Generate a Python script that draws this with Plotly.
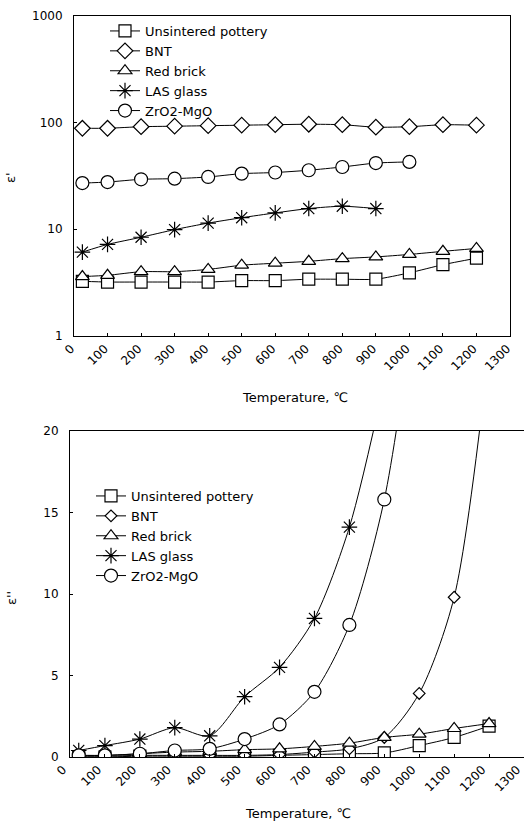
import plotly.graph_objects as go

# ---- data ----
temps = [25, 100, 200, 300, 400, 500, 600, 700, 800, 900, 1000, 1100, 1200]
series_names = ["Unsintered pottery", "BNT", "Red brick", "LAS glass", "ZrO2-MgO"]

# real part (epsilon')
eps1_pottery = [3.25, 3.2, 3.2, 3.2, 3.2, 3.3, 3.3, 3.4, 3.4, 3.4, 3.9, 4.65, 5.35]
eps1_bnt = [88, 88, 91, 92, 93, 94, 95, 96, 95, 90, 91, 95, 94]
eps1_brick = [3.6, 3.7, 4.0, 4.0, 4.2, 4.6, 4.8, 5.0, 5.3, 5.5, 5.8, 6.2, 6.6]
eps1_las = [6.1, 7.2, 8.4, 9.9, 11.4, 12.8, 14.2, 15.6, 16.4, 15.6]
eps1_zro2 = [27.0, 27.6, 29.3, 29.7, 30.8, 33.1, 33.9, 35.6, 38.2, 41.6, 42.6]

# imaginary part (epsilon'')
eps2_pottery = [0.0, 0.0, 0.05, 0.05, 0.05, 0.05, 0.1, 0.15, 0.2, 0.25, 0.7, 1.2, 1.9]
eps2_bnt = [0.05, 0.05, 0.1, 0.1, 0.1, 0.1, 0.15, 0.3, 0.5, 1.2, 3.9, 9.8, 25]
eps2_brick = [0.1, 0.1, 0.2, 0.3, 0.35, 0.45, 0.5, 0.65, 0.85, 1.2, 1.4, 1.75, 2.05]
eps2_las = [0.4, 0.7, 1.1, 1.8, 1.3, 3.7, 5.5, 8.5, 14.1, 23]
eps2_zro2 = [0.1, 0.1, 0.2, 0.4, 0.5, 1.1, 2.0, 4.0, 8.1, 15.8, 30]

x_ticks = list(range(0, 1301, 100))
y1_ticks = [1, 10, 100, 1000]
y2_ticks = [0, 5, 10, 15, 20]

symbols = ["square", "diamond", "triangle-up", "asterisk-open", "circle"]
fills = ["white", "white", "white", "black", "white"]
sizes1 = [12, 12, 12, 13, 13]
sizes2 = [12, 9, 12, 13, 13]

W, H = 524, 821
FONT = "DejaVu Sans, Arial, sans-serif"

fig = go.Figure()

top_data = [eps1_pottery, eps1_bnt, eps1_brick, eps1_las, eps1_zro2]
bot_data = [eps2_pottery, eps2_bnt, eps2_brick, eps2_las, eps2_zro2]

for i, name in enumerate(series_names):
    ys = top_data[i]
    fig.add_trace(go.Scatter(
        x=temps[:len(ys)], y=ys, name=name, mode="lines+markers",
        line=dict(color="black", width=1, shape="spline", smoothing=0.6),
        marker=dict(symbol=symbols[i], size=sizes1[i], color=fills[i],
                    line=dict(color="black", width=1.2)),
        xaxis="x", yaxis="y", legend="legend"))

for i, name in enumerate(series_names):
    ys = bot_data[i]
    fig.add_trace(go.Scatter(
        x=temps[:len(ys)], y=ys, name=name, mode="lines+markers",
        line=dict(color="black", width=1, shape="spline", smoothing=0.8),
        marker=dict(symbol=symbols[i], size=sizes2[i], color=fills[i],
                    line=dict(color="black", width=1.2)),
        xaxis="x2", yaxis="y2", legend="legend2"))

def px_x(p):
    return p / W

def px_y(p):
    return 1 - p / H

axis_common = dict(showgrid=False, zeroline=False, showline=True, linecolor="black",
                   linewidth=1, mirror=True, ticks="inside", ticklen=3,
                   tickcolor="black", automargin=False, ticklabeloverflow="allow",
                   tickfont=dict(family=FONT, size=12, color="black"))

fig.update_layout(
    width=W, height=H, template="none",
    paper_bgcolor="white", plot_bgcolor="white",
    margin=dict(l=0, r=0, t=0, b=0),
    showlegend=True,
    xaxis=dict(domain=[px_x(74), px_x(510)], range=[0, 1300], anchor="y",
               tickvals=x_ticks, tickangle=-45, ticklabelshift=-3, **axis_common),
    yaxis=dict(domain=[px_y(336), px_y(15.5)], type="log", range=[0, 3], anchor="x",
               tickvals=y1_ticks, ticktext=[str(v) for v in y1_ticks],
               ticklabelstandoff=8, **axis_common),
    xaxis2=dict(domain=[px_x(70), 1.0], range=[0, 1300], anchor="y2",
                tickvals=x_ticks, tickangle=-45, ticklabelshift=-7, **axis_common),
    yaxis2=dict(domain=[px_y(757), px_y(431)], range=[0, 20], anchor="x2",
                tickvals=y2_ticks, ticklabelstandoff=8, **axis_common),
    legend=dict(x=px_x(105), y=px_y(16), xanchor="left", yanchor="top",
                bgcolor="rgba(0,0,0,0)", borderwidth=0, itemwidth=30,
                font=dict(family=FONT, size=13, color="black")),
    legend2=dict(x=px_x(91), y=px_y(481), xanchor="left", yanchor="top",
                 bgcolor="rgba(0,0,0,0)", borderwidth=0, itemwidth=30,
                 font=dict(family=FONT, size=13, color="black")),
    annotations=[
        dict(text="Temperature, ℃", x=px_x(295), y=px_y(397), xref="paper", yref="paper",
             xanchor="center", yanchor="middle",
             showarrow=False, font=dict(family=FONT, size=13, color="black")),
        dict(text="Temperature, ℃", x=px_x(298), y=px_y(813), xref="paper", yref="paper",
             xanchor="center", yanchor="middle",
             showarrow=False, font=dict(family=FONT, size=13, color="black")),
        dict(text="ε'", x=px_x(10), y=px_y(178), xref="paper", yref="paper",
             xanchor="center", yanchor="middle",
             textangle=-90, showarrow=False, font=dict(family=FONT, size=13, color="black")),
        dict(text="ε''", x=px_x(11), y=px_y(598), xref="paper", yref="paper",
             xanchor="center", yanchor="middle",
             textangle=-90, showarrow=False, font=dict(family=FONT, size=13, color="black")),
    ],
)

fig.write_html("out.html", config={"displayModeBar": False},
               post_script="document.body.style.margin='0px';")
